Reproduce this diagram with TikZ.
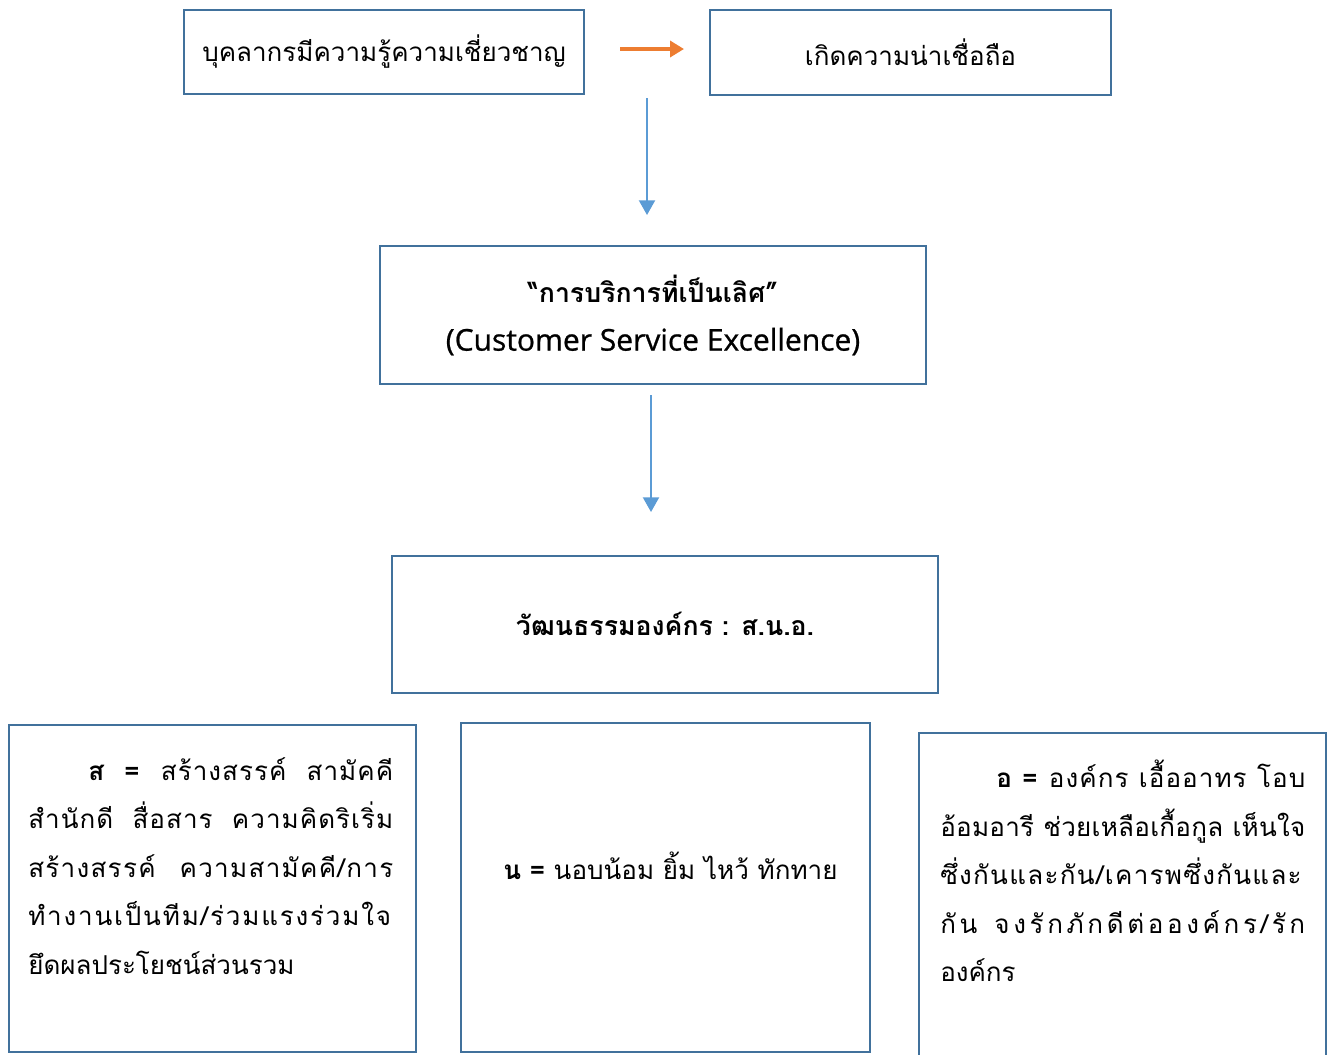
\documentclass[tikz,border=0pt]{standalone}
\usepackage{fontspec}
\setmainfont[Script=Thai]{Loma}
\newfontfamily\latinfont[FakeBold=0.8]{Open Sans}
\usetikzlibrary{arrows.meta}
\definecolor{boxblue}{HTML}{41719C}
\definecolor{arrblue}{HTML}{5B9BD5}
\definecolor{arrorange}{HTML}{ED7D31}
\newlength\paraw
\setlength\paraw{273.75pt}
\newcommand\jline[2]{\makebox[\paraw][s]{\addfontfeature{LetterSpace=#1}#2}}
\newcommand\jlineind[3]{\hspace*{#1}\makebox[\dimexpr\paraw-#1\relax][s]{\addfontfeature{LetterSpace=#2}#3}}
\begin{document}
\begin{tikzpicture}[x=0.75pt,y=-0.75pt,
  box/.style={draw=boxblue, line width=1.5pt, inner sep=0pt, align=center,
    font=\fontsize{19.5}{36.4}\selectfont},
  para/.style={inner sep=0pt, align=left, anchor=north west,
    font=\fontsize{19.5}{36.4}\selectfont},
  bluearrow/.style={draw=arrblue, line width=1.5pt, -{Triangle[width=12pt,length=11pt]}},
  orangearrow/.style={draw=arrorange, line width=2.6pt, -{Triangle[width=12pt,length=10.5pt]}}]
\useasboundingbox (0,0) rectangle (1328,1054);
% top boxes
\node[box, minimum width={400*0.75pt}, minimum height={84*0.75pt}] (b1) at (384,52) {บุคลากรมีความรู้ความเชี่ยวชาญ};
\node[box, minimum width={401*0.75pt}, minimum height={85*0.75pt}] (b2) at (910.5,52.5) {เกิดความน่าเชื่อถือ};
\coordinate (o1) at (620,49);
\coordinate (o2) at (684,49);
\draw[orangearrow] (o1) -- (o2);
\coordinate (a1) at (647,98);
\coordinate (a2) at (647,215);
\draw[bluearrow] (a1) -- (a2);
% middle
\node[box, minimum width={546*0.75pt}, minimum height={138*0.75pt}] (b3) at (653,315) {\fontsize{20}{36.4}\selectfont\bfseries “การบริการที่เป็นเลิศ”\\ {\latinfont\mdseries\fontsize{22.5}{36.4}\selectfont (Customer Service Excellence)}};
\coordinate (a3) at (651,395);
\coordinate (a4) at (651,512);
\draw[bluearrow] (a3) -- (a4);
\node[box, minimum width={546*0.75pt}, minimum height={137*0.75pt}] (b4) at (665,624) {\fontsize{20}{36.4}\selectfont\bfseries วัฒนธรรมองค์กร : ส.น.อ.};
% bottom boxes
\node[box, minimum width={407*0.75pt}, minimum height={327*0.75pt}] (b5) at (212.5,888.5) {};
\node[box, minimum width={409*0.75pt}, minimum height={329*0.75pt}] (b6) at (665.5,887.5) {};
\draw[boxblue, line width=1.5pt] (919,1070) -- (919,733) -- (1326,733) -- (1326,1070);
\node[para] (t5) at (28,757) {\jlineind{45pt}{4}{\textbf{ส =} สร้างสรรค์ สามัคคี}\\
\jline{4}{สำนักดี สื่อสาร ความคิดริเริ่ม}\\
\jline{5}{สร้างสรรค์ ความสามัคคี/การ}\\
\jline{7}{ทำงานเป็นทีม/ร่วมแรงร่วมใจ}\\
ยึดผลประโยชน์ส่วนรวม};
\node[para, anchor=west] (t6) at (503,866) {\textbf{น =} นอบน้อม ยิ้ม ไหว้ ทักทาย};
\node[para] (t7) at (940,760) {\jlineind{42pt}{4}{\textbf{อ =} องค์กร เอื้ออาทร โอบ}\\
\jline{1}{อ้อมอารี ช่วยเหลือเกื้อกูล เห็นใจ}\\
\jline{5}{ซึ่งกันและกัน/เคารพซึ่งกันและ}\\
\jline{14}{กัน\hspace{8pt plus 1fil}จงรักภักดีต่อองค์กร/รัก}\\
องค์กร};
\end{tikzpicture}
\end{document}
